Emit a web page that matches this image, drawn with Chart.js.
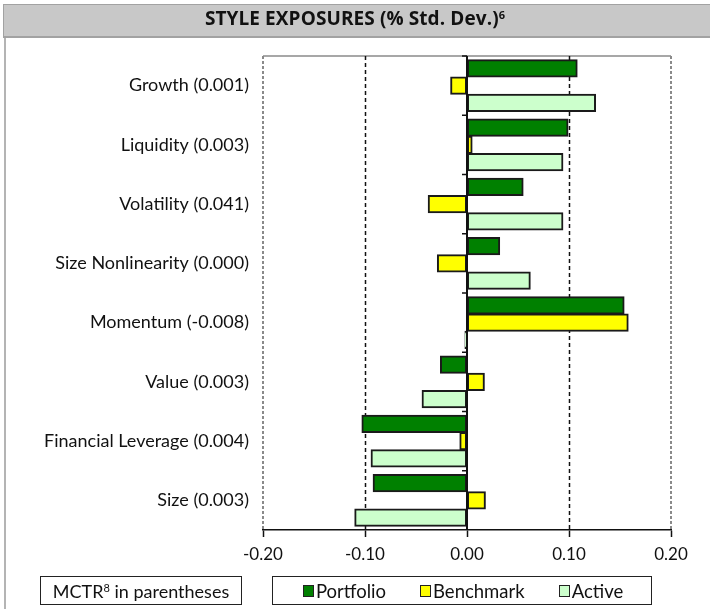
<!DOCTYPE html>
<html>
<head>
<meta charset="utf-8">
<script src="https://cdn.jsdelivr.net/npm/chart.js@4.4.0/dist/chart.umd.min.js"></script>
<style>
  body { margin: 0; background: #fff; }
  #wrap { position: relative; width: 710px; height: 609px; overflow: hidden; font-family: Lato, "DejaVu Sans", sans-serif; color: #111; }
  #myChart { position: absolute; left: 0; top: 0; }
  #titlebar { position: absolute; left: 3px; top: 4px; width: 720px; height: 34px; box-sizing: border-box;
    background: #c8c8c8; border: 1px solid #a2a2a2; border-bottom: 2px solid #a2a2a2; }
  #title { position: absolute; left: 0; top: 5px; width: 710px; height: 33px; line-height: 33px; text-align: center;
    font: bold 19px "Open Sans", sans-serif; color: #111; letter-spacing: 0.1px; }
  #title sup { font-size: 11px; vertical-align: 6px; line-height: 0; }
  #leftline { position: absolute; left: 4px; top: 38px; width: 2px; height: 580px; background: #b4b4b4; }
  .box { position: absolute; top: 576px; height: 29px; box-sizing: border-box; border: 1.5px solid #222;
    font-size: 18.5px; display: flex; align-items: center; }
  .box sup { font-size: 11px; vertical-align: 6px; line-height: 0; }
  #note { left: 40px; width: 202px; justify-content: center; font-size: 18px; }
  #legend { left: 272px; width: 380px; padding-left: 30px; }
  .item { display: flex; align-items: center; margin-right: 34px; }
  .swatch { width: 9px; height: 10px; border: 1px solid #222; margin-right: 2px; }
</style>
</head>
<body>
<div id="wrap">
  <canvas id="myChart" width="710" height="609"></canvas>
  <div id="titlebar"></div>
  <div id="title">STYLE EXPOSURES (% Std. Dev.)<sup>6</sup></div>
  <div id="leftline"></div>
  <div class="box" id="note"><span>MCTR<sup>8</sup> in parentheses</span></div>
  <div class="box" id="legend"></div>
</div>
<script>
const categories = ['Growth (0.001)', 'Liquidity (0.003)', 'Volatility (0.041)', 'Size Nonlinearity (0.000)',
  'Momentum (-0.008)', 'Value (0.003)', 'Financial Leverage (0.004)', 'Size (0.003)'];
const portfolio = [0.108, 0.099, 0.055, 0.032, 0.154, -0.026, -0.103, -0.092];
const benchmark = [-0.016, 0.005, -0.038, -0.029, 0.158, 0.017, -0.007, 0.018];
const active = [0.126, 0.094, 0.094, 0.062, -0.002, -0.044, -0.094, -0.110];
const seriesNames = ['Portfolio', 'Benchmark', 'Active'];
const seriesColors = ['#008000', '#ffff00', '#ccffcc'];
const xTicks = [-0.2, -0.1, 0, 0.1, 0.2];

// gridlines, plot frame and the small category ticks on the zero line
const framePlugin = {
  id: 'frame',
  beforeDatasetsDraw(chart) {
    const ctx = chart.ctx, a = chart.chartArea, x = chart.scales.x;
    ctx.save();
    ctx.strokeStyle = '#8a8a8a';
    ctx.lineWidth = 1.5;
    ctx.beginPath();
    ctx.moveTo(a.left, a.top); ctx.lineTo(a.right, a.top);
    ctx.stroke();
    ctx.setLineDash([3, 2]);
    ctx.lineWidth = 2;
    [a.left, a.right].forEach(px => {
      ctx.beginPath(); ctx.moveTo(px, a.top); ctx.lineTo(px, a.bottom); ctx.stroke();
    });
    ctx.strokeStyle = '#111';
    ctx.lineWidth = 1.5;
    ctx.setLineDash([4, 3]);
    [-0.1, 0.1].forEach(v => {
      const px = Math.round(x.getPixelForValue(v)) + 0.5;
      ctx.beginPath(); ctx.moveTo(px, a.top); ctx.lineTo(px, a.bottom); ctx.stroke();
    });
    ctx.restore();
  },
  afterDatasetsDraw(chart) {
    const ctx = chart.ctx, a = chart.chartArea, x = chart.scales.x;
    const zx = x.getPixelForValue(0);
    ctx.save();
    ctx.strokeStyle = '#111';
    ctx.lineWidth = 2;
    ctx.beginPath(); ctx.moveTo(zx, a.top); ctx.lineTo(zx, a.bottom); ctx.stroke();
    const step = (a.bottom - a.top) / categories.length;
    ctx.lineWidth = 1.5;
    for (let i = 0; i < categories.length; i++) {
      const y = a.top + i * step;
      ctx.beginPath(); ctx.moveTo(zx - 5, y); ctx.lineTo(zx, y); ctx.stroke();
    }
    ctx.restore();
  }
};

const chart_obj = document.getElementById('myChart');
const values = [portfolio, benchmark, active];

new Chart(chart_obj, {
  type: 'bar',
  data: {
    labels: categories,
    datasets: seriesNames.map((name, i) => ({
      label: name,
      data: values[i],
      backgroundColor: seriesColors[i],
      borderColor: '#1a1a1a',
      borderWidth: 2,
      borderSkipped: false,
      inflateAmount: 0.5,
      categoryPercentage: 0.87,
      barPercentage: 1.0
    }))
  },
  options: {
    indexAxis: 'y',
    responsive: false,
    animation: false,
    layout: { padding: { top: 56, right: 39, left: 0, bottom: 0 } },
    plugins: { legend: { display: false }, title: { display: false }, tooltip: { enabled: false } },
    scales: {
      y: {
        grid: { display: false, drawTicks: false },
        border: { display: false },
        ticks: { font: { family: 'Lato', size: 18 }, color: '#111', padding: 14 },
        afterFit: s => { s.width = 263; }
      },
      x: {
        min: -0.2,
        max: 0.2,
        afterBuildTicks: s => { s.ticks = xTicks.map(v => ({ value: v })); },
        ticks: { font: { family: 'Lato', size: 17 }, color: '#111', padding: 7, maxRotation: 0,
          callback: v => Number(v).toFixed(2) },
        grid: { drawOnChartArea: false, drawTicks: true, tickLength: 7, tickColor: '#111', tickWidth: 1.5 },
        border: { color: '#111', width: 1.5 },
        afterFit: s => { s.height = 79; }
      }
    }
  },
  plugins: [framePlugin]
});

// html legend built from the series arrays
const legendBox = document.getElementById('legend');
seriesNames.forEach((name, i) => {
  const item = document.createElement('div');
  item.className = 'item';
  item.innerHTML = '<span class="swatch" style="background:' + seriesColors[i] + '"></span><span>' + name + '</span>';
  legendBox.appendChild(item);
});
</script>
</body>
</html>
